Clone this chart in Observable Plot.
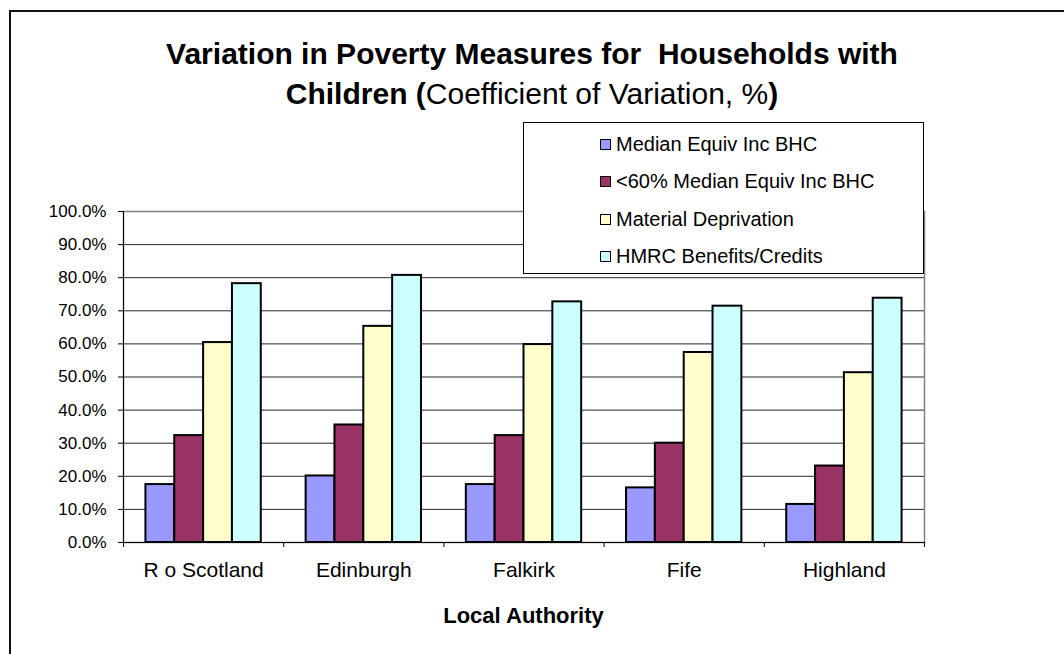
<!DOCTYPE html>
<html>
<head>
<meta charset="utf-8">
<script src="https://cdn.jsdelivr.net/npm/d3@7"></script>
<script src="https://cdn.jsdelivr.net/npm/@observablehq/plot@0.6"></script>
<style>
  html, body { margin: 0; padding: 0; background: #fff; }
  body { font-family: "Liberation Sans", Arial, sans-serif; color: #000; }
  #wrap { position: relative; width: 1064px; height: 654px; overflow: hidden; background: #fff; }
  #border { position: absolute; left: 9px; top: 10px; width: 2000px; height: 2000px;
            border-left: 2px solid #111; border-top: 2px solid #111; box-sizing: border-box; }
  #chart { position: absolute; left: 0; top: 0; }
  #title { position: absolute; left: 0; top: 34px; width: 1064px; text-align: center;
           font-size: 30px; line-height: 40px; font-weight: bold; }
  #title .n { font-weight: normal; }
  #legend { position: absolute; left: 523px; top: 122px; width: 401px; height: 152px;
            border: 1px solid #000; background: #fff; box-sizing: border-box; }
  .item { position: absolute; left: 76px; height: 24px; display: flex; align-items: center;
          font-size: 20px; white-space: nowrap; }
  .sw { width: 9px; height: 9px; border: 1.5px solid #000; margin-right: 5px; }
  #xtitle { position: absolute; left: 123px; width: 801px; top: 603px; text-align: center;
            font-weight: bold; font-size: 22px; }
</style>
</head>
<body>
<div id="wrap">
  <div id="border"></div>
  <div id="chart"></div>
  <div id="title"></div>
  <div id="legend"></div>
  <div id="xtitle"></div>
</div>
<script>
// ---- data ----
const categories = ["R o Scotland", "Edinburgh", "Falkirk", "Fife", "Highland"];
const seriesNames = ["Median Equiv Inc BHC", "<60% Median Equiv Inc BHC", "Material Deprivation", "HMRC Benefits/Credits"];
const medianEquivIncBHC = [17.5, 20.1, 17.5, 16.5, 11.5];
const below60MedianBHC = [32.3, 35.5, 32.3, 30.0, 23.1];
const materialDeprivation = [60.4, 65.3, 59.8, 57.4, 51.3];
const hmrcBenefitsCredits = [78.2, 80.7, 72.7, 71.4, 73.8];
const yTicks = [0, 10, 20, 30, 40, 50, 60, 70, 80, 90, 100];
const seriesColors = ["#9999FF", "#993366", "#FFFFCC", "#CCFFFF"];
const titleLine1 = "Variation in Poverty Measures for  Households with";
const titleLine2Bold = "Children (";
const titleLine2Normal = "Coefficient of Variation, %";
const titleLine2End = ")";
const xAxisTitle = "Local Authority";

// ---- table ----
const seriesValues = [medianEquivIncBHC, below60MedianBHC, materialDeprivation, hmrcBenefitsCredits];
const groupPad = 0.14, barW = 0.18;
const rows = [];
categories.forEach((c, i) => {
  seriesValues.forEach((vals, j) => {
    rows.push({
      category: c,
      series: seriesNames[j],
      x1: i + groupPad + j * barW,
      x2: i + groupPad + (j + 1) * barW,
      value: vals[i]
    });
  });
});
const boundaries = d3.range(categories.length + 1);
const centers = d3.range(categories.length).map(i => i + 0.5);

const chart = Plot.plot({
  width: 1064,
  height: 654,
  marginLeft: 123,
  marginRight: 140,
  marginTop: 211,
  marginBottom: 112,
  x: { type: "linear", domain: [0, categories.length], axis: null },
  y: { type: "linear", domain: [0, 100], axis: null },
  color: { domain: seriesNames, range: seriesColors },
  style: { fontFamily: '"Liberation Sans", Arial, sans-serif', fontSize: "17px", color: "#000", background: "transparent", overflow: "visible" },
  marks: [
    Plot.gridY(yTicks, { stroke: "#000", strokeOpacity: 0.85, strokeWidth: 1 }),
    Plot.frame({ stroke: "#808080", strokeWidth: 1.5 }),
    Plot.rectY(rows, { x1: "x1", x2: "x2", y: "value", fill: "series", stroke: "#000", strokeWidth: 2 }),
    Plot.ruleX([0], { stroke: "#000", strokeWidth: 1 }),
    Plot.ruleY([0], { stroke: "#000", strokeWidth: 1 }),
    Plot.axisY(yTicks, { tickSize: 5, tickPadding: 12, stroke: "#000", strokeOpacity: 1, fill: "#000", tickFormat: d => d.toFixed(1) + "%", label: null }),
    Plot.axisX(boundaries, { tickSize: 5, stroke: "#000", strokeOpacity: 1, tickFormat: () => "", label: null }),
    Plot.axisX(centers, { tickSize: 0, tickPadding: 20, fill: "#000", fontSize: 21, tickFormat: d => categories[Math.floor(d)], label: null })
  ]
});
document.getElementById("chart").appendChild(chart);

// ---- title ----
const t = document.getElementById("title");
const l1 = document.createElement("div"); l1.style.whiteSpace = "pre"; l1.textContent = titleLine1; t.appendChild(l1);
const l2 = document.createElement("div");
l2.appendChild(document.createTextNode(titleLine2Bold));
const sp = document.createElement("span"); sp.className = "n"; sp.textContent = titleLine2Normal; l2.appendChild(sp);
l2.appendChild(document.createTextNode(titleLine2End));
t.appendChild(l2);

// ---- legend ----
const lg = document.getElementById("legend");
const rowTops = [9, 46, 84, 121];
seriesNames.forEach((name, j) => {
  const it = document.createElement("div");
  it.className = "item";
  it.style.top = rowTops[j] + "px";
  const sw = document.createElement("div");
  sw.className = "sw";
  sw.style.background = seriesColors[j];
  it.appendChild(sw);
  const tx = document.createElement("span");
  tx.textContent = name;
  it.appendChild(tx);
  lg.appendChild(it);
});

document.getElementById("xtitle").textContent = xAxisTitle;
</script>
</body>
</html>
